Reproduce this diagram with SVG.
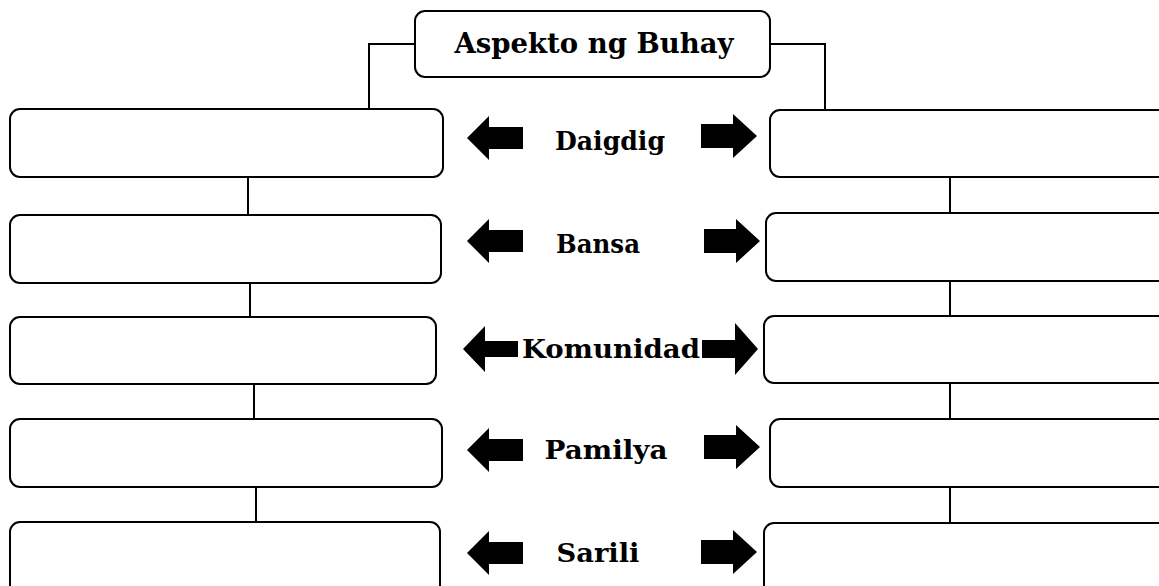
<svg xmlns="http://www.w3.org/2000/svg" width="1159" height="586" viewBox="0 0 1159 586">
<style>
.box{fill:#fff;stroke:#000;stroke-width:2}
.ln{fill:none;stroke:#000;stroke-width:2}
.arr{fill:#000}
.t{font-family:"DejaVu Serif","Liberation Serif",serif;font-weight:bold;fill:#000;text-anchor:middle;font-size:26px}
</style>
<defs>
<path id="la" d="M0,0 L22,-22 L22,-11 L56,-11 L56,11 L22,11 L22,22 Z"/>
<path id="ra" d="M0,0 L-24,-22 L-24,-12 L-56,-12 L-56,12 L-24,12 L-24,22 Z"/>
</defs>
<rect width="1159" height="586" fill="#fff"/>
<g id="connectors">
<polyline class="ln" points="415,44 369,44 369,109 322,109"/>
<polyline class="ln" points="770,44 825,44 825,110 880,110"/>
<line class="ln" x1="248" y1="178" x2="248" y2="215"/>
<line class="ln" x1="250" y1="283" x2="250" y2="317"/>
<line class="ln" x1="254" y1="384" x2="254" y2="419"/>
<line class="ln" x1="256" y1="488" x2="256" y2="522"/>
<line class="ln" x1="950" y1="178" x2="950" y2="213"/>
<line class="ln" x1="950" y1="282" x2="950" y2="316"/>
<line class="ln" x1="950" y1="384" x2="950" y2="419"/>
<line class="ln" x1="950" y1="488" x2="950" y2="523"/>
<use href="#la" class="arr" x="467" y="138"/>
<use href="#ra" class="arr" x="757" y="136"/>
<use href="#la" class="arr" x="467" y="241"/>
<use href="#ra" class="arr" x="760" y="241"/>
<path class="arr" d="M463,349 L485,326 L485,341 L518,341 L518,357 L485,357 L485,372 Z"/>
<path class="arr" d="M758,349 L735,323 L735,340 L702,340 L702,358 L735,358 L735,375 Z"/>
<use href="#la" class="arr" x="467" y="450"/>
<use href="#ra" class="arr" x="760" y="447"/>
<use href="#la" class="arr" x="467" y="553"/>
<use href="#ra" class="arr" x="757" y="552"/>
</g>
<g id="top"><rect class="box" x="415" y="11" width="355" height="66" rx="10"/><text class="t" x="594" y="53" style="font-size:28px" textLength="279" lengthAdjust="spacingAndGlyphs">Aspekto ng Buhay</text></g>
<g id="lbl-daigdig"><text class="t" x="610" y="150" textLength="110" lengthAdjust="spacingAndGlyphs">Daigdig</text></g>
<g id="lbl-bansa"><text class="t" x="598" y="253" textLength="84" lengthAdjust="spacingAndGlyphs">Bansa</text></g>
<g id="lbl-komunidad"><text class="t" x="611" y="358" textLength="178" lengthAdjust="spacingAndGlyphs">Komunidad</text></g>
<g id="lbl-pamilya"><text class="t" x="606" y="459" textLength="123" lengthAdjust="spacingAndGlyphs">Pamilya</text></g>
<g id="lbl-sarili"><text class="t" x="598" y="562" textLength="83" lengthAdjust="spacingAndGlyphs">Sarili</text></g>
<g id="l1"><rect class="box" x="10" y="109" width="433" height="68" rx="10"/></g>
<g id="l2"><rect class="box" x="10" y="215" width="431" height="68" rx="10"/></g>
<g id="l3"><rect class="box" x="10" y="317" width="426" height="67" rx="10"/></g>
<g id="l4"><rect class="box" x="10" y="419" width="432" height="68" rx="10"/></g>
<g id="l5"><rect class="box" x="10" y="522" width="430" height="80" rx="10"/></g>
<g id="r1"><rect class="box" x="770" y="110" width="400" height="67" rx="10"/></g>
<g id="r2"><rect class="box" x="766" y="213" width="404" height="68" rx="10"/></g>
<g id="r3"><rect class="box" x="764" y="316" width="406" height="67" rx="10"/></g>
<g id="r4"><rect class="box" x="770" y="419" width="400" height="68" rx="10"/></g>
<g id="r5"><rect class="box" x="764" y="523" width="406" height="80" rx="10"/></g>
</svg>
